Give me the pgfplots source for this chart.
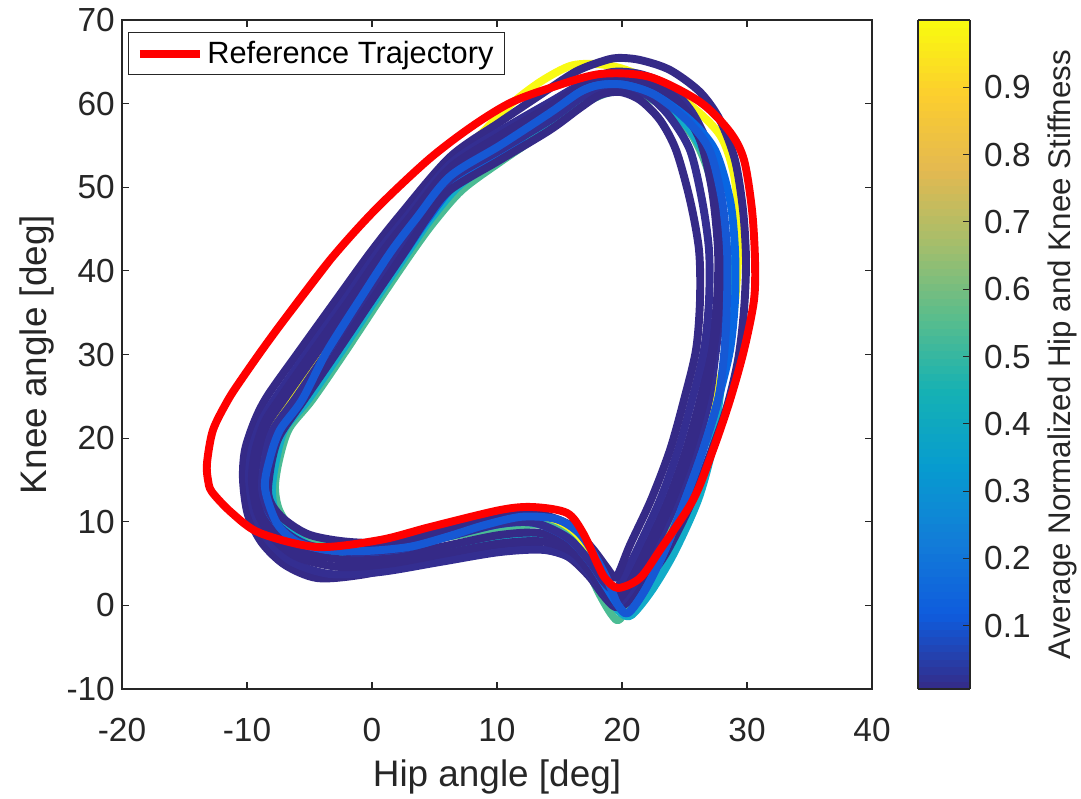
\documentclass[border=0pt]{standalone}
\usepackage{fontspec}
\setmainfont{Liberation Sans}
\usepackage{pgfplots}
\pgfplotsset{compat=1.18}
\definecolor{axgray}{RGB}{38,38,38}
\definecolor{navy}{RGB}{53,42,135}
\definecolor{navyb}{RGB}{52,46,145}
\definecolor{pblue}{RGB}{8,102,226}
\definecolor{pblueb}{RGB}{22,88,212}
\definecolor{pteal}{RGB}{18,172,200}
\definecolor{pgreen}{RGB}{75,188,148}
\definecolor{pyellow}{RGB}{249,250,20}
\definecolor{refred}{RGB}{255,0,0}
\begin{document}
\begin{tikzpicture}
\path[use as bounding box] (-24.4mm,-21.8mm) rectangle (191.8mm,137.8mm);
\begin{axis}[
  at={(0,0)}, anchor=south west,
  scale only axis, width=150mm, height=133.8mm,
  xmin=-20, xmax=40, ymin=-10, ymax=70,
  xtick={-20,-10,0,10,20,30,40},
  ytick={-10,0,10,20,30,40,50,60,70},
  tick align=inside, xtick pos=both, ytick pos=both,
  major tick length=1.4mm,
  axis line style={axgray, line width=0.6pt},
  every tick/.style={axgray, line width=0.6pt},
  ticklabel style={font=\fontsize{19}{22}\selectfont, text=axgray},
  xticklabel style={yshift=-4.5mm},
  yticklabel style={xshift=-0.2mm},
  /pgf/number format/assume math mode=true,
  xlabel={Hip angle [deg]}, ylabel={Knee angle [deg]},
  label style={font=\fontsize{21}{25}\selectfont, text=axgray},
  xlabel style={yshift=-1.2mm},
  colormap={parula}{rgb255=(53,42,135) rgb255=(15,92,221) rgb255=(18,125,216) rgb255=(7,156,207) rgb255=(21,177,180) rgb255=(89,189,140) rgb255=(165,190,107) rgb255=(228,185,80) rgb255=(252,206,46) rgb255=(249,251,14)},
  colorbar sampled,
  colorbar shift/.style={xshift=9.2mm},
  point meta min=0.006, point meta max=1.0,
  colorbar style={
    samples=90,
    at={(parent axis.north east)}, anchor=north west,
    scale only axis, width=10.4mm, height=133.8mm,
    ytick={0.1,0.2,0.3,0.4,0.5,0.6,0.7,0.8,0.9},
    tick align=inside, ytick pos=right, yticklabel pos=right,
    major tick length=1.4mm,
    axis line style={axgray, line width=0.6pt},
    every tick/.style={axgray, line width=0.6pt},
    yticklabel style={font=\fontsize{19}{22}\selectfont, text=axgray, xshift=1.6mm, /pgf/number format/fixed, /pgf/number format/precision=1, /pgf/number format/fixed zerofill},
    /pgf/number format/assume math mode=true,
    ylabel={Average Normalized Hip and Knee Stiffness},
    ylabel shift=1mm,
    ylabel style={font=\fontsize{17.8}{20}\selectfont, text=axgray},
  },
  legend style={at={(0.008,0.982)}, anchor=north west, draw=axgray, line width=0.6pt,
    font=\fontsize{17.5}{21}\selectfont, text=black, inner xsep=1.5mm, inner ysep=1mm},
  legend cell align=left,
]
% yellow loop
\addplot[forget plot, smooth, line width=4.5pt, color=pyellow, line join=round] coordinates {
(-3.84,30.30) (-1.2,36.28) (1.6,42.26) (3.44,46.32) (6.24,52.66) (8.64,56.25) (11.04,59.84) (13.44,62.59) (15.84,64.50) (17.84,64.74) (19.84,64.26) (22.24,62.83) (25.44,59.84) (27.84,56.25) (28.88,52.06) (29.28,47.28) (29.28,41.30) (28.96,35.32) (28.24,29.34) (27.2,23.36) (26.08,17.38) (24.64,11.40) (23.04,6.02) (21.44,1.84) (20.24,-0.32) (19.44,0.04) (18.24,3.04) (17.04,6.62) (15.44,9.37) (12.64,10.45) (9.44,10.21) (5.44,9.01) (0.64,7.46) (-4.16,7.22) (-6.96,8.65) (-8.16,11.16) (-8.96,14.03) (-8.72,17.62) (-8.0,20.97) (-6.4,24.56) (-3.84,30.30) (-1.2,36.28)
};
% green loop
\addplot[forget plot, smooth, line width=4.5pt, color=pgreen, line join=round] coordinates {
(-2.16,30.30) (0.48,36.28) (3.2,42.26) (4.96,45.85) (7.2,49.67) (10.24,53.02) (14.24,57.08) (17.04,60.07) (19.2,61.39) (21.6,61.03) (23.68,59.24) (25.6,56.25) (26.88,52.06) (27.68,46.68) (28.0,41.30) (27.84,35.32) (27.36,29.34) (26.48,23.36) (25.44,17.38) (24.24,11.99) (22.64,6.62) (21.12,1.84) (19.84,-1.63) (19.2,-1.15) (18.24,1.24) (17.28,4.23) (15.99,7.82) (13.84,9.61) (10.24,9.25) (5.44,8.05) (0.64,7.22) (-3.52,7.22) (-5.92,8.42) (-7.36,11.16) (-7.76,14.03) (-7.44,17.38) (-6.64,21.13) (-4.8,24.56) (-2.16,30.30) (0.48,36.28)
};
% teal loop
\addplot[forget plot, smooth, line width=4.5pt, color=pteal, line join=round] coordinates {
(-2.48,30.30) (0.16,36.28) (2.88,42.26) (4.64,46.08) (7.04,50.27) (10.24,53.50) (14.24,57.44) (17.04,60.43) (19.04,61.63) (21.44,61.39) (23.44,59.84) (25.44,56.85) (27.04,52.66) (28.0,47.28) (28.48,41.30) (28.48,35.32) (28.16,29.34) (27.68,23.36) (27.2,18.58) (26.08,12.6) (24.16,6.26) (22.4,1.84) (20.8,-1.12) (20.0,-0.99) (19.04,0.64) (17.84,3.63) (16.24,6.38) (13.44,7.82) (10.24,7.82) (5.44,6.86) (0.64,6.02) (-3.76,6.38) (-6.32,8.46) (-7.68,10.92) (-8.0,13.80) (-7.68,17.38) (-6.96,21.13) (-5.12,24.56) (-2.48,30.30) (0.16,36.28)
};
% navy loop A
\addplot[forget plot, smooth, line width=4.5pt, color=navy, line join=round] coordinates {
(-5.76,30.54) (-2.88,36.52) (-0.16,42.14) (2.24,46.68) (6.24,53.62) (10.24,57.80) (13.44,61.03) (16.24,63.78) (18.24,64.98) (19.6,65.46) (21.44,65.22) (23.84,64.02) (26.24,61.39) (27.84,58.04) (29.04,53.26) (29.68,47.28) (29.92,41.30) (29.76,35.32) (29.28,29.34) (28.32,23.36) (26.88,17.38) (25.28,11.40) (23.44,6.02) (21.68,2.44) (20.4,0.31) (19.44,-0.19) (18.48,1.24) (17.28,3.63) (15.44,6.02) (12.64,6.86) (8.64,6.38) (3.84,5.07) (-0.96,3.63) (-4.4,3.27) (-6.96,4.83) (-8.8,7.46) (-9.92,10.81) (-10.32,14.99) (-10.16,18.58) (-9.36,22.17) (-8.32,25.16) (-5.76,30.54) (-2.88,36.52)
};
% navy loop D
\addplot[forget plot, smooth, line width=4.5pt, color=navyb, line join=round] coordinates {
(-5.04,30.54) (-2.24,36.40) (0.48,42.26) (2.8,46.56) (6.24,52.78) (10.24,56.73) (14.24,60.19) (17.04,62.59) (19.2,63.78) (21.44,63.54) (23.68,62.11) (25.6,58.99) (27.04,54.45) (27.68,48.48) (28.0,42.5) (28.0,36.52) (27.52,30.54) (26.96,24.56) (25.76,17.98) (24.24,11.99) (22.4,6.26) (20.8,2.08) (19.68,0.16) (18.72,1.12) (17.76,3.04) (16.24,5.43) (13.84,6.62) (10.24,6.38) (5.44,5.19) (0.64,3.99) (-3.36,3.75) (-6.4,5.19) (-8.32,7.82) (-9.44,11.16) (-9.84,15.14) (-9.6,18.73) (-8.8,22.17) (-7.68,24.92) (-5.04,30.54) (-2.24,36.40)
};
% navy loop H
\addplot[forget plot, smooth, line width=4.5pt, color=navy, line join=round] coordinates {
(-4.68,30.48) (-1.88,36.34) (0.84,42.26) (3.08,46.5) (6.24,52.3) (10.24,56.19) (14.24,59.72) (16.84,62.23) (18.92,63.3) (21.04,63.18) (23.16,61.99) (25.12,59.2) (26.64,55.05) (27.44,49.07) (27.84,42.5) (27.8,36.52) (27.32,30.54) (26.6,24.56) (25.44,18.28) (23.96,12.3) (22.12,6.44) (20.52,2.26) (19.48,0.4) (18.6,1.48) (17.6,3.64) (16.04,6.33) (13.64,7.64) (10.24,7.4) (5.84,6.2) (1.44,5.0) (-2.56,4.59) (-5.88,5.72) (-7.84,7.94) (-9.12,10.98) (-9.6,14.8) (-9.36,18.35) (-8.6,21.87) (-7.32,24.86) (-4.68,30.48) (-1.88,36.34)
};
% navy loop B
\addplot[forget plot, smooth, line width=4.5pt, color=navy, line join=round] coordinates {
(-4.32,30.42) (-1.52,36.28) (1.2,42.26) (3.36,46.44) (6.24,51.82) (10.24,55.65) (14.24,59.24) (16.64,61.87) (18.64,62.83) (20.64,62.83) (22.64,61.87) (24.64,59.48) (26.24,55.65) (27.2,49.67) (27.68,42.5) (27.6,36.52) (27.12,30.54) (26.24,24.56) (25.12,18.58) (23.68,12.6) (21.84,6.62) (20.24,2.44) (19.28,0.64) (18.48,1.84) (17.44,4.23) (15.84,7.22) (13.44,8.65) (10.24,8.42) (6.24,7.22) (2.24,6.02) (-1.76,5.43) (-5.36,6.26) (-7.36,8.05) (-8.8,10.81) (-9.36,14.39) (-9.12,17.98) (-8.4,21.57) (-6.96,24.80) (-4.32,30.42) (-1.52,36.28)
};
% bright blue loop F
\addplot[forget plot, smooth, line width=4.5pt, color=pblue, line join=round] coordinates {
(-2.88,30.30) (-0.16,36.28) (2.64,42.26) (4.4,46.08) (6.64,50.27) (10.24,53.86) (14.24,58.64) (16.64,61.39) (18.24,62.23) (20.24,62.23) (22.64,61.03) (25.44,58.04) (27.44,54.45) (28.64,48.48) (29.04,42.5) (29.04,36.52) (28.64,30.54) (27.68,24.56) (26.48,18.58) (25.04,12.6) (23.44,6.62) (21.84,1.84) (20.48,-0.91) (19.68,0.04) (18.64,2.44) (17.44,5.19) (15.68,8.05) (13.04,9.85) (10.24,9.73) (6.24,8.30) (2.24,6.74) (-1.76,6.38) (-5.12,7.22) (-7.12,9.01) (-8.32,11.40) (-8.56,14.03) (-8.16,17.62) (-7.36,20.97) (-5.6,24.56) (-2.88,30.30) (-0.16,36.28)
};
% navy loop E
\addplot[forget plot, smooth, line width=4.5pt, color=navyb, line join=round] coordinates {
(-3.52,30.42) (-0.8,36.28) (1.92,42.26) (3.84,46.44) (6.24,50.87) (10.24,54.45) (14.24,58.04) (16.8,60.79) (18.64,61.87) (20.48,61.87) (22.24,60.79) (23.84,58.40) (25.44,54.45) (26.4,48.48) (26.96,42.5) (26.96,36.52) (26.56,30.54) (25.6,24.56) (24.48,18.58) (23.04,12.6) (21.2,6.62) (20.0,3.04) (19.36,1.84) (18.56,2.80) (17.44,5.19) (15.68,8.05) (13.04,9.85) (10.24,9.73) (6.24,8.30) (2.24,6.74) (-1.76,6.38) (-5.12,7.22) (-7.12,9.01) (-8.32,11.40) (-8.8,14.03) (-8.56,17.62) (-7.92,20.97) (-6.16,24.68) (-3.52,30.42) (-0.8,36.28)
};
% navy loop C
\addplot[forget plot, smooth, line width=4.5pt, color=navy, line join=round] coordinates {
(-2.8,30.30) (-0.16,36.16) (2.56,42.14) (4.4,46.32) (6.24,49.67) (10.24,53.26) (14.24,56.85) (16.64,59.48) (18.24,61.03) (19.84,61.39) (21.44,60.43) (23.04,58.04) (24.32,54.45) (25.44,48.48) (26.16,42.5) (26.24,36.52) (25.92,30.54) (24.96,24.56) (23.84,18.58) (22.32,12.6) (20.64,7.22) (19.84,4.23) (19.44,3.27) (18.8,4.47) (17.6,6.86) (15.84,9.61) (13.04,11.04) (10.24,10.81) (6.24,9.25) (2.24,7.58) (-1.76,7.58) (-4.96,8.42) (-6.96,10.21) (-8.0,12.00) (-8.32,13.80) (-8.0,17.38) (-7.36,20.37) (-5.44,24.56) (-2.8,30.30) (-0.16,36.16)
};
% blue loop F2
\addplot[forget plot, smooth, line width=4.5pt, color=pblueb, line join=round] coordinates {
(-3.6,30.4) (-1.1,36.3) (1.5,42.26) (3.6,46.4) (6.24,51.3) (10.24,55.0) (14.24,58.9) (16.64,61.39) (18.24,62.23) (20.24,62.23) (22.64,61.03) (25.2,58.0) (27.0,54.45) (28.0,48.48) (28.4,42.5) (28.4,36.52) (28.2,30.54) (27.68,24.56) (26.48,18.58) (25.04,12.6) (23.44,6.62) (21.84,1.84) (20.48,-0.91) (19.68,0.04) (18.8,3.2) (17.8,6.0) (16.6,8.6) (14.8,10.3) (12.0,10.6) (9.0,9.6) (6.0,8.2) (3.0,7.0) (-0.5,6.5) (-3.5,6.6) (-6.0,7.6) (-7.6,9.8) (-8.56,14.03) (-8.16,17.62) (-7.36,20.97) (-5.6,24.56) (-3.6,30.4) (-1.1,36.3)
};
% reference trajectory
\addplot[smooth, line width=4.5pt, color=refred, line join=round,
  legend image code/.code={\draw[refred, line width=4.5pt] (0mm,0mm) -- (12mm,0mm);}] coordinates {
(-7.04,34.12) (-3.36,41.3) (0.24,47.28) (4.48,53.26) (7.92,57.2) (11.04,60.08) (14.24,61.87) (18.24,63.54) (22.24,63.18) (26.24,60.2) (28.64,56.6) (29.76,53.26) (30.4,47.28) (30.64,41.3) (30.56,36.52) (29.76,30.54) (28.64,24.56) (27.28,18.58) (25.68,12.6) (23.04,6.62) (21.44,3.27) (19.68,2.08) (18.64,3.27) (18.0,5.07) (16.88,8.66) (15.6,11.05) (12.88,11.76) (10.24,11.4) (4.64,9.37) (0.64,7.82) (-4.4,6.98) (-8.96,8.65) (-11.2,11.04) (-12.8,13.56) (-13.12,14.99) (-13.2,17.02) (-12.72,20.97) (-11.52,24.56) (-10.48,26.95) (-8.8,30.54) (-7.04,34.12) (-3.36,41.3)
};
\addlegendentry{Reference Trajectory}
\end{axis}
\end{tikzpicture}
\end{document}
